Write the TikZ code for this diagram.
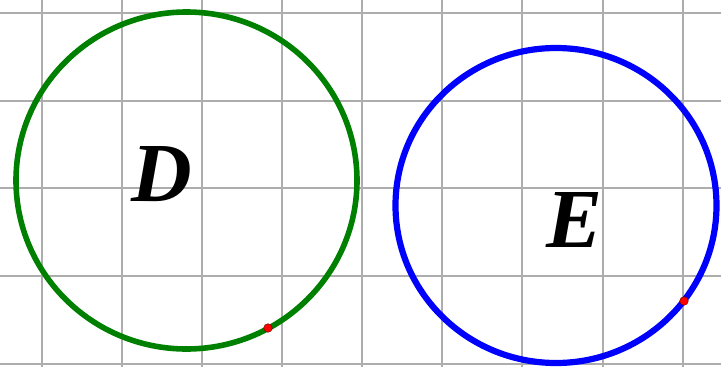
\documentclass[tikz,border=0pt]{standalone}
\usepackage{fontspec}
\setmainfont{Liberation Serif}
\begin{document}
\begin{tikzpicture}[x=1pt,y=-1pt,
  gridline/.style={draw=black!32, line width=2pt},
  ring/.style={line width=5.6pt},
  dot/.style={fill=red, draw=black!60!red, line width=0.4pt},
  letter/.style={font=\fontsize{84}{84}\selectfont\bfseries\itshape, inner sep=0pt}]
\useasboundingbox (0,0) rectangle (721,367);
\fill[white] (0,0) rectangle (721,367);
\foreach \i in {0,...,8} \draw[gridline] ({41.8+80.1*\i},0) -- ({41.8+80.1*\i},367);
\foreach \j in {0,...,4} \draw[gridline] (0,{12.6+87.9*\j}) -- (721,{12.6+87.9*\j});
\draw[ring, draw={rgb,255:red,0;green,128;blue,0}] (186.5,180.5) ellipse [x radius=170.5, y radius=168.5];
\draw[ring, line width=6.2pt, draw={rgb,255:red,0;green,0;blue,255}] (556,205.5) ellipse [x radius=160.5, y radius=157.5];
\draw[dot] (268,328) circle (4.3);
\draw[dot] (684,301) circle (4.3);
\node[letter] (D) at (162,174) {D};
\node[letter] (E) at (575,220) {E};
\end{tikzpicture}
\end{document}
